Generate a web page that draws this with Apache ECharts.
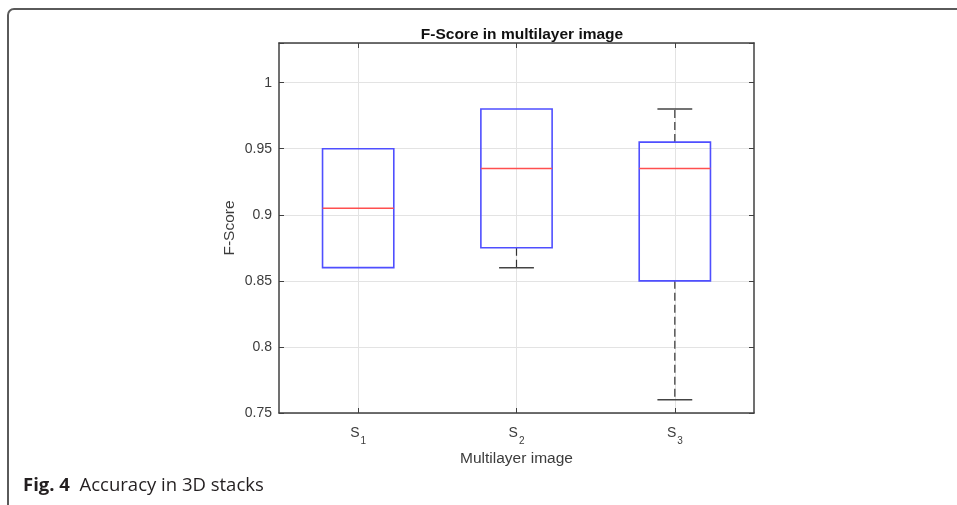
<!DOCTYPE html>
<html>
<head>
<meta charset="utf-8">
<style>
  html, body { margin: 0; padding: 0; background: #ffffff; }
  #chart { width: 957px; height: 505px; }
</style>
<script src="https://cdn.jsdelivr.net/npm/echarts@6/dist/echarts.min.js"></script>
</head>
<body>
<div id="chart"></div>
<script>
// ---- data ----
const categories = ['1', '2', '3'];           // subscripts of S
const whiskerLow  = [0.86, 0.86, 0.76];
const quartile1   = [0.86, 0.875, 0.85];
const medians     = [0.905, 0.935, 0.935];
const quartile3   = [0.95, 0.98, 0.955];
const whiskerHigh = [0.95, 0.98, 0.98];
const yTicks = { min: 0.75, max: 1.03, interval: 0.05 };

const boxData = categories.map((c, i) => [i, whiskerLow[i], quartile1[i], medians[i], quartile3[i], whiskerHigh[i]]);

const chart = echarts.init(document.getElementById('chart'), null, { renderer: 'canvas' });

const axisColor = '#404040';
const gridColor = '#e3e3e3';
const labelColor = '#3c3c3c';
const font = 'Liberation Sans, Arial, sans-serif';

function renderBox(params, api) {
  const x = api.value(0);
  const lo = api.value(1), q1 = api.value(2), md = api.value(3), q3 = api.value(4), hi = api.value(5);
  const band = api.size([1, 0])[0];
  const bw = band * 0.45;
  const cw = band * 0.22;
  const pq1 = api.coord([x, q1]);
  const pq3 = api.coord([x, q3]);
  const pmd = api.coord([x, md]);
  const plo = api.coord([x, lo]);
  const phi = api.coord([x, hi]);
  const cx = pq1[0];
  const children = [];
  if (lo < q1) {
    children.push({ type: 'line', shape: { x1: cx, y1: pq1[1], x2: cx, y2: plo[1] },
      style: { stroke: '#333', lineWidth: 1.2, lineDash: [8, 4] } });
    children.push({ type: 'line', shape: { x1: cx - cw / 2, y1: plo[1], x2: cx + cw / 2, y2: plo[1] },
      style: { stroke: '#444', lineWidth: 1.5 } });
  }
  if (hi > q3) {
    children.push({ type: 'line', shape: { x1: cx, y1: pq3[1], x2: cx, y2: phi[1] },
      style: { stroke: '#333', lineWidth: 1.2, lineDash: [8, 4] } });
    children.push({ type: 'line', shape: { x1: cx - cw / 2, y1: phi[1], x2: cx + cw / 2, y2: phi[1] },
      style: { stroke: '#444', lineWidth: 1.5 } });
  }
  children.push({ type: 'rect', shape: { x: cx - bw / 2, y: pq3[1], width: bw, height: pq1[1] - pq3[1] },
    style: { fill: 'rgba(0,0,0,0)', stroke: '#4f4fff', lineWidth: 1.6 } });
  children.push({ type: 'line', shape: { x1: cx - bw / 2, y1: pmd[1], x2: cx + bw / 2, y2: pmd[1] },
    style: { stroke: '#ff4f4f', lineWidth: 1.6 } });
  return { type: 'group', children };
}

const yLabelFmt = v => {
  const k = v / yTicks.interval;
  return Math.abs(k - Math.round(k)) < 1e-6 ? String(+v.toFixed(2)) : '';
};

const option = {
  backgroundColor: '#ffffff',
  animation: false,
  title: {
    text: 'F-Score in multilayer image',
    left: 517, top: 22, textAlign: 'center',
    textStyle: { fontFamily: font, fontSize: 15.5, fontWeight: 'bold', color: '#111' }
  },
  grid: { left: 279, top: 43, right: 203, bottom: 92, containLabel: false },
  xAxis: [{
    type: 'category',
    data: categories,
    boundaryGap: true,
    position: 'bottom',
    name: 'Multilayer image',
    nameLocation: 'middle',
    nameGap: 37,
    nameTextStyle: { fontFamily: font, fontSize: 15.5, color: labelColor },
    axisLine: { show: true, onZero: false, lineStyle: { color: axisColor, width: 1.5 } },
    axisTick: { show: true, inside: true, alignWithLabel: true, length: 5, lineStyle: { color: axisColor } },
    splitLine: { show: true, alignWithLabel: true, lineStyle: { color: gridColor, width: 1 } },
    axisLabel: {
      margin: 13,
      formatter: v => '{s|S}{sub|' + v + '}',
      rich: {
        s: { fontFamily: font, fontSize: 14, color: labelColor, lineHeight: 20, verticalAlign: 'top' },
        sub: { fontFamily: font, fontSize: 10, color: labelColor, lineHeight: 20, verticalAlign: 'bottom', padding: [9, 0, 0, 1] }
      }
    }
  }, {
    type: 'category',
    data: categories,
    boundaryGap: true,
    position: 'top',
    axisLine: { show: true, onZero: false, lineStyle: { color: axisColor, width: 1.5 } },
    axisTick: { show: true, inside: true, alignWithLabel: true, length: 5, lineStyle: { color: axisColor } },
    splitLine: { show: false },
    axisLabel: { show: false }
  }],
  yAxis: [{
    type: 'value',
    min: yTicks.min, max: yTicks.max, interval: yTicks.interval,
    position: 'left',
    name: 'F-Score',
    nameLocation: 'middle',
    nameGap: 41,
    nameRotate: 90,
    nameTextStyle: { fontFamily: font, fontSize: 15.5, color: labelColor },
    axisLine: { show: true, onZero: false, lineStyle: { color: axisColor, width: 1.5 } },
    axisTick: { show: true, inside: true, length: 5, lineStyle: { color: axisColor } },
    splitLine: { show: true, lineStyle: { color: gridColor, width: 1 } },
    axisLabel: { margin: 7, fontFamily: font, fontSize: 14, color: labelColor, formatter: yLabelFmt }
  }, {
    type: 'value',
    min: yTicks.min, max: yTicks.max, interval: yTicks.interval,
    position: 'right',
    axisLine: { show: true, onZero: false, lineStyle: { color: axisColor, width: 1.5 } },
    axisTick: { show: true, inside: true, length: 5, lineStyle: { color: axisColor } },
    splitLine: { show: false },
    axisLabel: { show: false }
  }],
  series: [{
    type: 'custom',
    xAxisIndex: 0,
    yAxisIndex: 0,
    renderItem: renderBox,
    encode: { x: 0, y: [1, 2, 3, 4, 5] },
    data: boxData,
    z: 5
  }],
  graphic: [{
    type: 'polyline',
    shape: { points: [[957, 9], [14, 9]] },
    style: { fill: null, stroke: '#5a5a5a', lineWidth: 2 }
  }, {
    type: 'polyline',
    shape: { points: [[8, 15], [8, 505]] },
    style: { fill: null, stroke: '#5a5a5a', lineWidth: 2 }
  }, {
    type: 'arc',
    shape: { cx: 14, cy: 15, r: 6, startAngle: Math.PI, endAngle: Math.PI * 1.5, clockwise: true },
    style: { fill: null, stroke: '#5a5a5a', lineWidth: 2 }
  }, {
    type: 'text',
    left: 23, top: 476,
    style: {
      text: '{b|Fig. 4}  Accuracy in 3D stacks',
      fontFamily: 'Open Sans, sans-serif',
      fontSize: 18.5,
      fill: '#231f20',
      rich: {
        b: { fontFamily: 'Open Sans, sans-serif', fontSize: 18.5, fontWeight: 'bold', fill: '#231f20' }
      }
    }
  }]
};

chart.setOption(option);
</script>
</body>
</html>
